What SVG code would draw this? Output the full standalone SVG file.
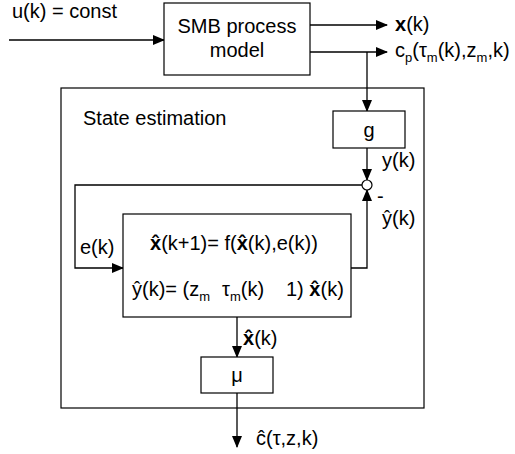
<svg xmlns="http://www.w3.org/2000/svg" width="515" height="454" viewBox="0 0 515 454">
<style>
text{font-family:"Liberation Sans",Arial,sans-serif;font-size:20px;fill:#000}
.sub{font-size:13px}
.box{fill:#fff;stroke:#000;stroke-width:1.2}
.ln{fill:none;stroke:#000;stroke-width:1.3}
.b{font-weight:bold}
</style>
<defs>
<marker id="ah" markerWidth="12" markerHeight="10" refX="11" refY="5" orient="auto" markerUnits="userSpaceOnUse">
<path d="M0,0 L12,5 L0,10 Z" fill="#000"/>
</marker>
</defs>
<g id="outer">
<rect class="box" x="61" y="88" width="363" height="320" fill="none"/>
<text x="83" y="125">State estimation</text>
</g>
<g id="connectors">
<line class="ln" x1="9" y1="40" x2="164" y2="40" marker-end="url(#ah)"/>
<line class="ln" x1="310" y1="25" x2="387" y2="25" marker-end="url(#ah)"/>
<line class="ln" x1="310" y1="52" x2="387" y2="52" marker-end="url(#ah)"/>
<line class="ln" x1="367" y1="52" x2="367" y2="111" marker-end="url(#ah)"/>
<line class="ln" x1="367" y1="148" x2="367" y2="180" marker-end="url(#ah)"/>
<polyline class="ln" points="362,185 75,185 75,268 123,268" marker-end="url(#ah)"/>
<polyline class="ln" points="351,268 367,268 367,190" marker-end="url(#ah)"/>
<line class="ln" x1="237" y1="317" x2="237" y2="357" marker-end="url(#ah)"/>
<line class="ln" x1="237" y1="393" x2="237" y2="447" marker-end="url(#ah)"/>
</g>
<g id="input-label"><text x="12" y="18">u(k) = const</text></g>
<g id="smb">
<rect class="box" x="164" y="3" width="146" height="72"/>
<text x="237" y="33" text-anchor="middle">SMB process</text>
<text x="237" y="57" text-anchor="middle">model</text>
</g>
<g id="outputs">
<text x="395" y="31"><tspan class="b">x</tspan>(k)</text>
<text x="395" y="57">c<tspan class="sub" dy="5">p</tspan><tspan dy="-5">(τ</tspan><tspan class="sub" dy="5">m</tspan><tspan dy="-5">(k),z</tspan><tspan class="sub" dy="5">m</tspan><tspan dy="-5">,k)</tspan></text>
</g>
<g id="g">
<rect class="box" x="333" y="111" width="72" height="37"/>
<text x="369" y="137" text-anchor="middle">g</text>
<text x="382" y="167">y(k)</text>
</g>
<g id="sum">
<circle cx="367" cy="185" r="5" fill="#fff" stroke="#000" stroke-width="1.2"/>
<text x="377" y="203">-</text>
<text x="382" y="225">y&#x302;(k)</text>
</g>
<g id="ek"><text x="80" y="254">e(k)</text></g>
<g id="estimator">
<rect class="box" x="123" y="214" width="228" height="103"/>
<text x="150" y="250"><tspan class="b">x&#x302;</tspan>(k+1)= f(<tspan class="b">x&#x302;</tspan>(k),e(k))</text>
<text x="132" y="296">y&#x302;(k)= (z<tspan class="sub" dy="5">m</tspan></text>
<text x="222" y="296">τ<tspan class="sub" dy="5">m</tspan><tspan dy="-5">(k)</tspan></text>
<text x="286" y="296">1) <tspan class="b">x&#x302;</tspan>(k)</text>
</g>
<g id="xhat-label">
<text x="243" y="345"><tspan class="b">x&#x302;</tspan>(k)</text>
</g>
<g id="mu">
<rect class="box" x="201" y="357" width="72" height="36"/>
<text x="237" y="382" text-anchor="middle">μ</text>
</g>
<g id="chat">
<text x="256" y="445">c&#x302;(τ,z,k)</text>
</g>
</svg>
